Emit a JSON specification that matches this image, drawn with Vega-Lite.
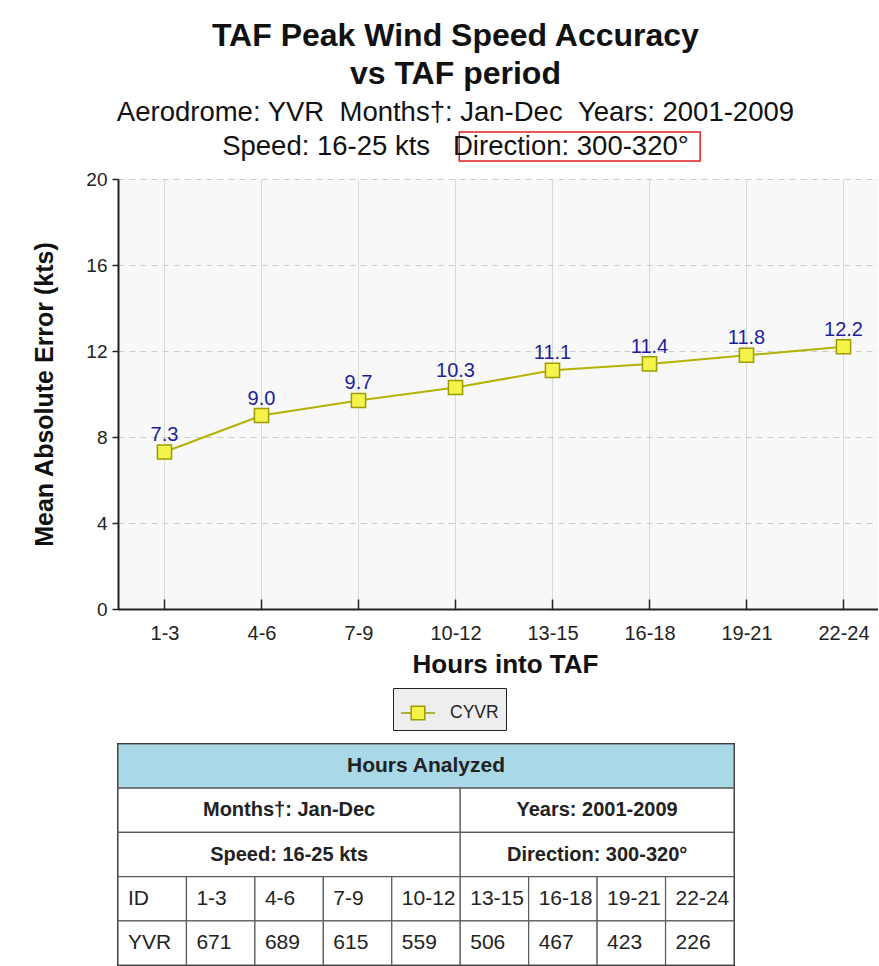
{
  "$schema": "https://vega.github.io/schema/vega-lite/v6.json",
  "background": "white",
  "padding": {"left": 32, "top": 19, "right": 0, "bottom": 0},
  "bounds": "flush",
  "spacing": 135,
  "config": {
    "font": "Liberation Sans",
    "view": {"stroke": null}
  },
  "datasets": {
    "mae": [
      {"period": "1-3", "mae": 7.3, "station": "CYVR"},
      {"period": "4-6", "mae": 9.0, "station": "CYVR"},
      {"period": "7-9", "mae": 9.7, "station": "CYVR"},
      {"period": "10-12", "mae": 10.3, "station": "CYVR"},
      {"period": "13-15", "mae": 11.1, "station": "CYVR"},
      {"period": "16-18", "mae": 11.4, "station": "CYVR"},
      {"period": "19-21", "mae": 11.8, "station": "CYVR"},
      {"period": "22-24", "mae": 12.2, "station": "CYVR"}
    ],
    "note": [{"x0": 0.449, "x1": 0.766, "y0": 20.84, "y1": 22.19}],
    "table": [
      {"row": "r0", "c0": "ID", "c1": "22-24", "at": "10-12", "kind": "head", "label": "Hours Analyzed"},
      {"row": "r1", "c0": "ID", "c1": "10-12", "at": "4-6", "kind": "spanL", "label": "Months†: Jan-Dec"},
      {"row": "r1", "c0": "13-15", "c1": "22-24", "at": "19-21", "kind": "spanR", "label": "Years: 2001-2009"},
      {"row": "r2", "c0": "ID", "c1": "10-12", "at": "4-6", "kind": "spanL", "label": "Speed: 16-25 kts"},
      {"row": "r2", "c0": "13-15", "c1": "22-24", "at": "19-21", "kind": "spanR", "label": "Direction: 300-320°"},
      {"row": "r3", "c0": "ID", "c1": "ID", "at": "ID", "kind": "cell", "label": "ID"},
      {"row": "r3", "c0": "1-3", "c1": "1-3", "at": "1-3", "kind": "cell", "label": "1-3"},
      {"row": "r3", "c0": "4-6", "c1": "4-6", "at": "4-6", "kind": "cell", "label": "4-6"},
      {"row": "r3", "c0": "7-9", "c1": "7-9", "at": "7-9", "kind": "cell", "label": "7-9"},
      {"row": "r3", "c0": "10-12", "c1": "10-12", "at": "10-12", "kind": "cell", "label": "10-12"},
      {"row": "r3", "c0": "13-15", "c1": "13-15", "at": "13-15", "kind": "cell", "label": "13-15"},
      {"row": "r3", "c0": "16-18", "c1": "16-18", "at": "16-18", "kind": "cell", "label": "16-18"},
      {"row": "r3", "c0": "19-21", "c1": "19-21", "at": "19-21", "kind": "cell", "label": "19-21"},
      {"row": "r3", "c0": "22-24", "c1": "22-24", "at": "22-24", "kind": "cell", "label": "22-24"},
      {"row": "r4", "c0": "ID", "c1": "ID", "at": "ID", "kind": "cell", "label": "YVR"},
      {"row": "r4", "c0": "1-3", "c1": "1-3", "at": "1-3", "kind": "cell", "label": "671"},
      {"row": "r4", "c0": "4-6", "c1": "4-6", "at": "4-6", "kind": "cell", "label": "689"},
      {"row": "r4", "c0": "7-9", "c1": "7-9", "at": "7-9", "kind": "cell", "label": "615"},
      {"row": "r4", "c0": "10-12", "c1": "10-12", "at": "10-12", "kind": "cell", "label": "559"},
      {"row": "r4", "c0": "13-15", "c1": "13-15", "at": "13-15", "kind": "cell", "label": "506"},
      {"row": "r4", "c0": "16-18", "c1": "16-18", "at": "16-18", "kind": "cell", "label": "467"},
      {"row": "r4", "c0": "19-21", "c1": "19-21", "at": "19-21", "kind": "cell", "label": "423"},
      {"row": "r4", "c0": "22-24", "c1": "22-24", "at": "22-24", "kind": "cell", "label": "226"}
    ]
  },
  "vconcat": [
    {
      "title": {
        "text": ["TAF Peak Wind Speed Accuracy", "vs TAF period"],
        "subtitle": ["Aerodrome: YVR \u00a0Months†: Jan-Dec \u00a0Years: 2001-2009", "Speed: 16-25 kts \u00a0\u00a0Direction: 300-320°"],
        "anchor": "middle",
        "frame": "bounds",
        "font": "Liberation Sans",
        "fontSize": 32,
        "fontWeight": "bold",
        "color": "#111111",
        "lineHeight": 38,
        "subtitleFont": "Liberation Sans",
        "subtitleFontSize": 27.5,
        "subtitleColor": "#111111",
        "subtitleLineHeight": 34,
        "subtitlePadding": 8,
        "offset": -30
      },
      "width": 760,
      "height": 430,
      "view": {"fill": "#f8f8f8", "stroke": null},
      "layer": [
        {
          "data": {"name": "mae"},
          "encoding": {
            "x": {
              "field": "period",
              "type": "ordinal",
              "sort": null,
              "scale": {"type": "point", "padding": 0.4175, "align": 0.574},
              "axis": {
                "title": "Hours into TAF",
                "titleFontSize": 26,
                "titleFontWeight": "bold",
                "titleColor": "#111111",
                "titlePadding": 8,
                "titleX": 387,
                "labelFontSize": 20,
                "labelColor": "#222222",
                "labelAngle": 0,
                "labelPadding": 24,
                "tickSize": -10,
                "tickColor": "#222222",
                "tickWidth": 1.5,
                "domainColor": "#222222",
                "domainWidth": 2,
                "grid": true,
                "gridColor": "#d9d9d9",
                "gridWidth": 1
              }
            },
            "y": {
              "field": "mae",
              "type": "quantitative",
              "scale": {"domain": [0, 20], "nice": false},
              "axis": {
                "title": "Mean Absolute Error (kts)",
                "values": [0, 4, 8, 12, 16, 20],
                "titleFontSize": 25,
                "titleFontWeight": "bold",
                "titleColor": "#111111",
                "titlePadding": 28,
                "labelFontSize": 19,
                "labelColor": "#222222",
                "labelPadding": 5,
                "tickSize": 6,
                "tickColor": "#222222",
                "tickWidth": 1.5,
                "domainColor": "#222222",
                "domainWidth": 2,
                "grid": true,
                "gridColor": "#cccccc",
                "gridDash": [6, 5],
                "gridWidth": 1
              }
            }
          },
          "layer": [
            {"mark": {"type": "line", "color": "#b2b200", "strokeWidth": 2}},
            {
              "mark": {"type": "square", "filled": true, "size": 200, "stroke": "#9c9c00", "strokeWidth": 1.5, "opacity": 1},
              "encoding": {
                "color": {
                  "field": "station",
                  "type": "nominal",
                  "scale": {"range": ["#f3f34a"]},
                  "legend": {
                    "orient": "none",
                    "legendX": 275,
                    "legendY": 509,
                    "title": null,
                    "direction": "horizontal",
                    "fillColor": "#eeeeee",
                    "strokeColor": "#222222",
                    "padding": 7,
                    "symbolType": "M-1,0H-0.4M0.4,0H1M-0.4,-0.4H0.4V0.4H-0.4Z",
                    "symbolSize": 1156,
                    "symbolStrokeWidth": 1.5,
                    "symbolStrokeColor": "#9c9c00",
                    "symbolFillColor": "#f3f34a",
                    "labelFontSize": 17.5,
                    "labelOffset": 14,
                    "labelColor": "#222222",
                    "labelExpr": "datum.label + '\u00a0\u00a0\u00a0\u00a0'"
                  }
                }
              }
            },
            {
              "mark": {"type": "text", "dy": -17, "fontSize": 20, "color": "#1e1e9a"},
              "encoding": {"text": {"field": "mae", "type": "quantitative", "format": ".1f"}}
            }
          ]
        },
        {
          "data": {"name": "note"},
          "mark": {"type": "rect", "filled": false, "color": "#e02020", "strokeWidth": 1.5},
          "encoding": {
            "x": {"field": "x0", "type": "quantitative", "scale": {"domain": [0, 1]}, "axis": null},
            "x2": {"field": "x1"},
            "y": {"field": "y0", "type": "quantitative", "scale": {"domain": [0, 20], "nice": false}},
            "y2": {"field": "y1"}
          }
        }
      ],
      "resolve": {"scale": {"x": "independent"}}
    },
    {
      "width": 616,
      "height": 221,
      "view": {"stroke": "#222222", "strokeWidth": 2, "fill": "white"},
      "data": {"name": "table"},
      "encoding": {
        "y": {
          "field": "row",
          "type": "ordinal",
          "axis": null,
          "scale": {"domain": ["r0", "r1", "r2", "r3", "r4"], "paddingInner": 0, "paddingOuter": 0}
        }
      },
      "layer": [
        {
          "mark": {"type": "rect", "stroke": "#5a5a5a", "strokeWidth": 1.2},
          "encoding": {
            "x": {"field": "c0", "type": "nominal", "bandPosition": 0, "axis": null,
                  "scale": {"domain": ["ID", "1-3", "4-6", "7-9", "10-12", "13-15", "16-18", "19-21", "22-24"], "paddingInner": 0, "paddingOuter": 0}},
            "x2": {"field": "c1", "bandPosition": 1},
            "fill": {"field": "kind", "type": "nominal", "legend": null,
                     "scale": {"domain": ["head", "spanL", "spanR", "cell"], "range": ["#a9d8e7", "#ffffff", "#ffffff", "#ffffff"]}}
          }
        },
        {
          "transform": [{"filter": "datum.kind == 'head'"}],
          "mark": {"type": "text", "fontSize": 21, "fontWeight": "bold", "color": "#222222", "baseline": "middle"},
          "encoding": {
            "x": {"field": "at", "type": "nominal", "bandPosition": 0.5, "axis": null},
            "text": {"field": "label"}
          }
        },
        {
          "transform": [{"filter": "datum.kind == 'spanL'"}],
          "mark": {"type": "text", "fontSize": 20, "fontWeight": "bold", "color": "#222222", "baseline": "middle"},
          "encoding": {
            "x": {"field": "at", "type": "nominal", "bandPosition": 0.5, "axis": null},
            "text": {"field": "label"}
          }
        },
        {
          "transform": [{"filter": "datum.kind == 'spanR'"}],
          "mark": {"type": "text", "fontSize": 20, "fontWeight": "bold", "color": "#222222", "baseline": "middle"},
          "encoding": {
            "x": {"field": "at", "type": "nominal", "bandPosition": 0, "axis": null},
            "text": {"field": "label"}
          }
        },
        {
          "transform": [{"filter": "datum.kind == 'cell'"}],
          "mark": {"type": "text", "fontSize": 21, "color": "#222222", "baseline": "middle", "align": "left", "dx": 10},
          "encoding": {
            "x": {"field": "at", "type": "nominal", "bandPosition": 0, "axis": null},
            "text": {"field": "label"}
          }
        }
      ]
    }
  ]
}
